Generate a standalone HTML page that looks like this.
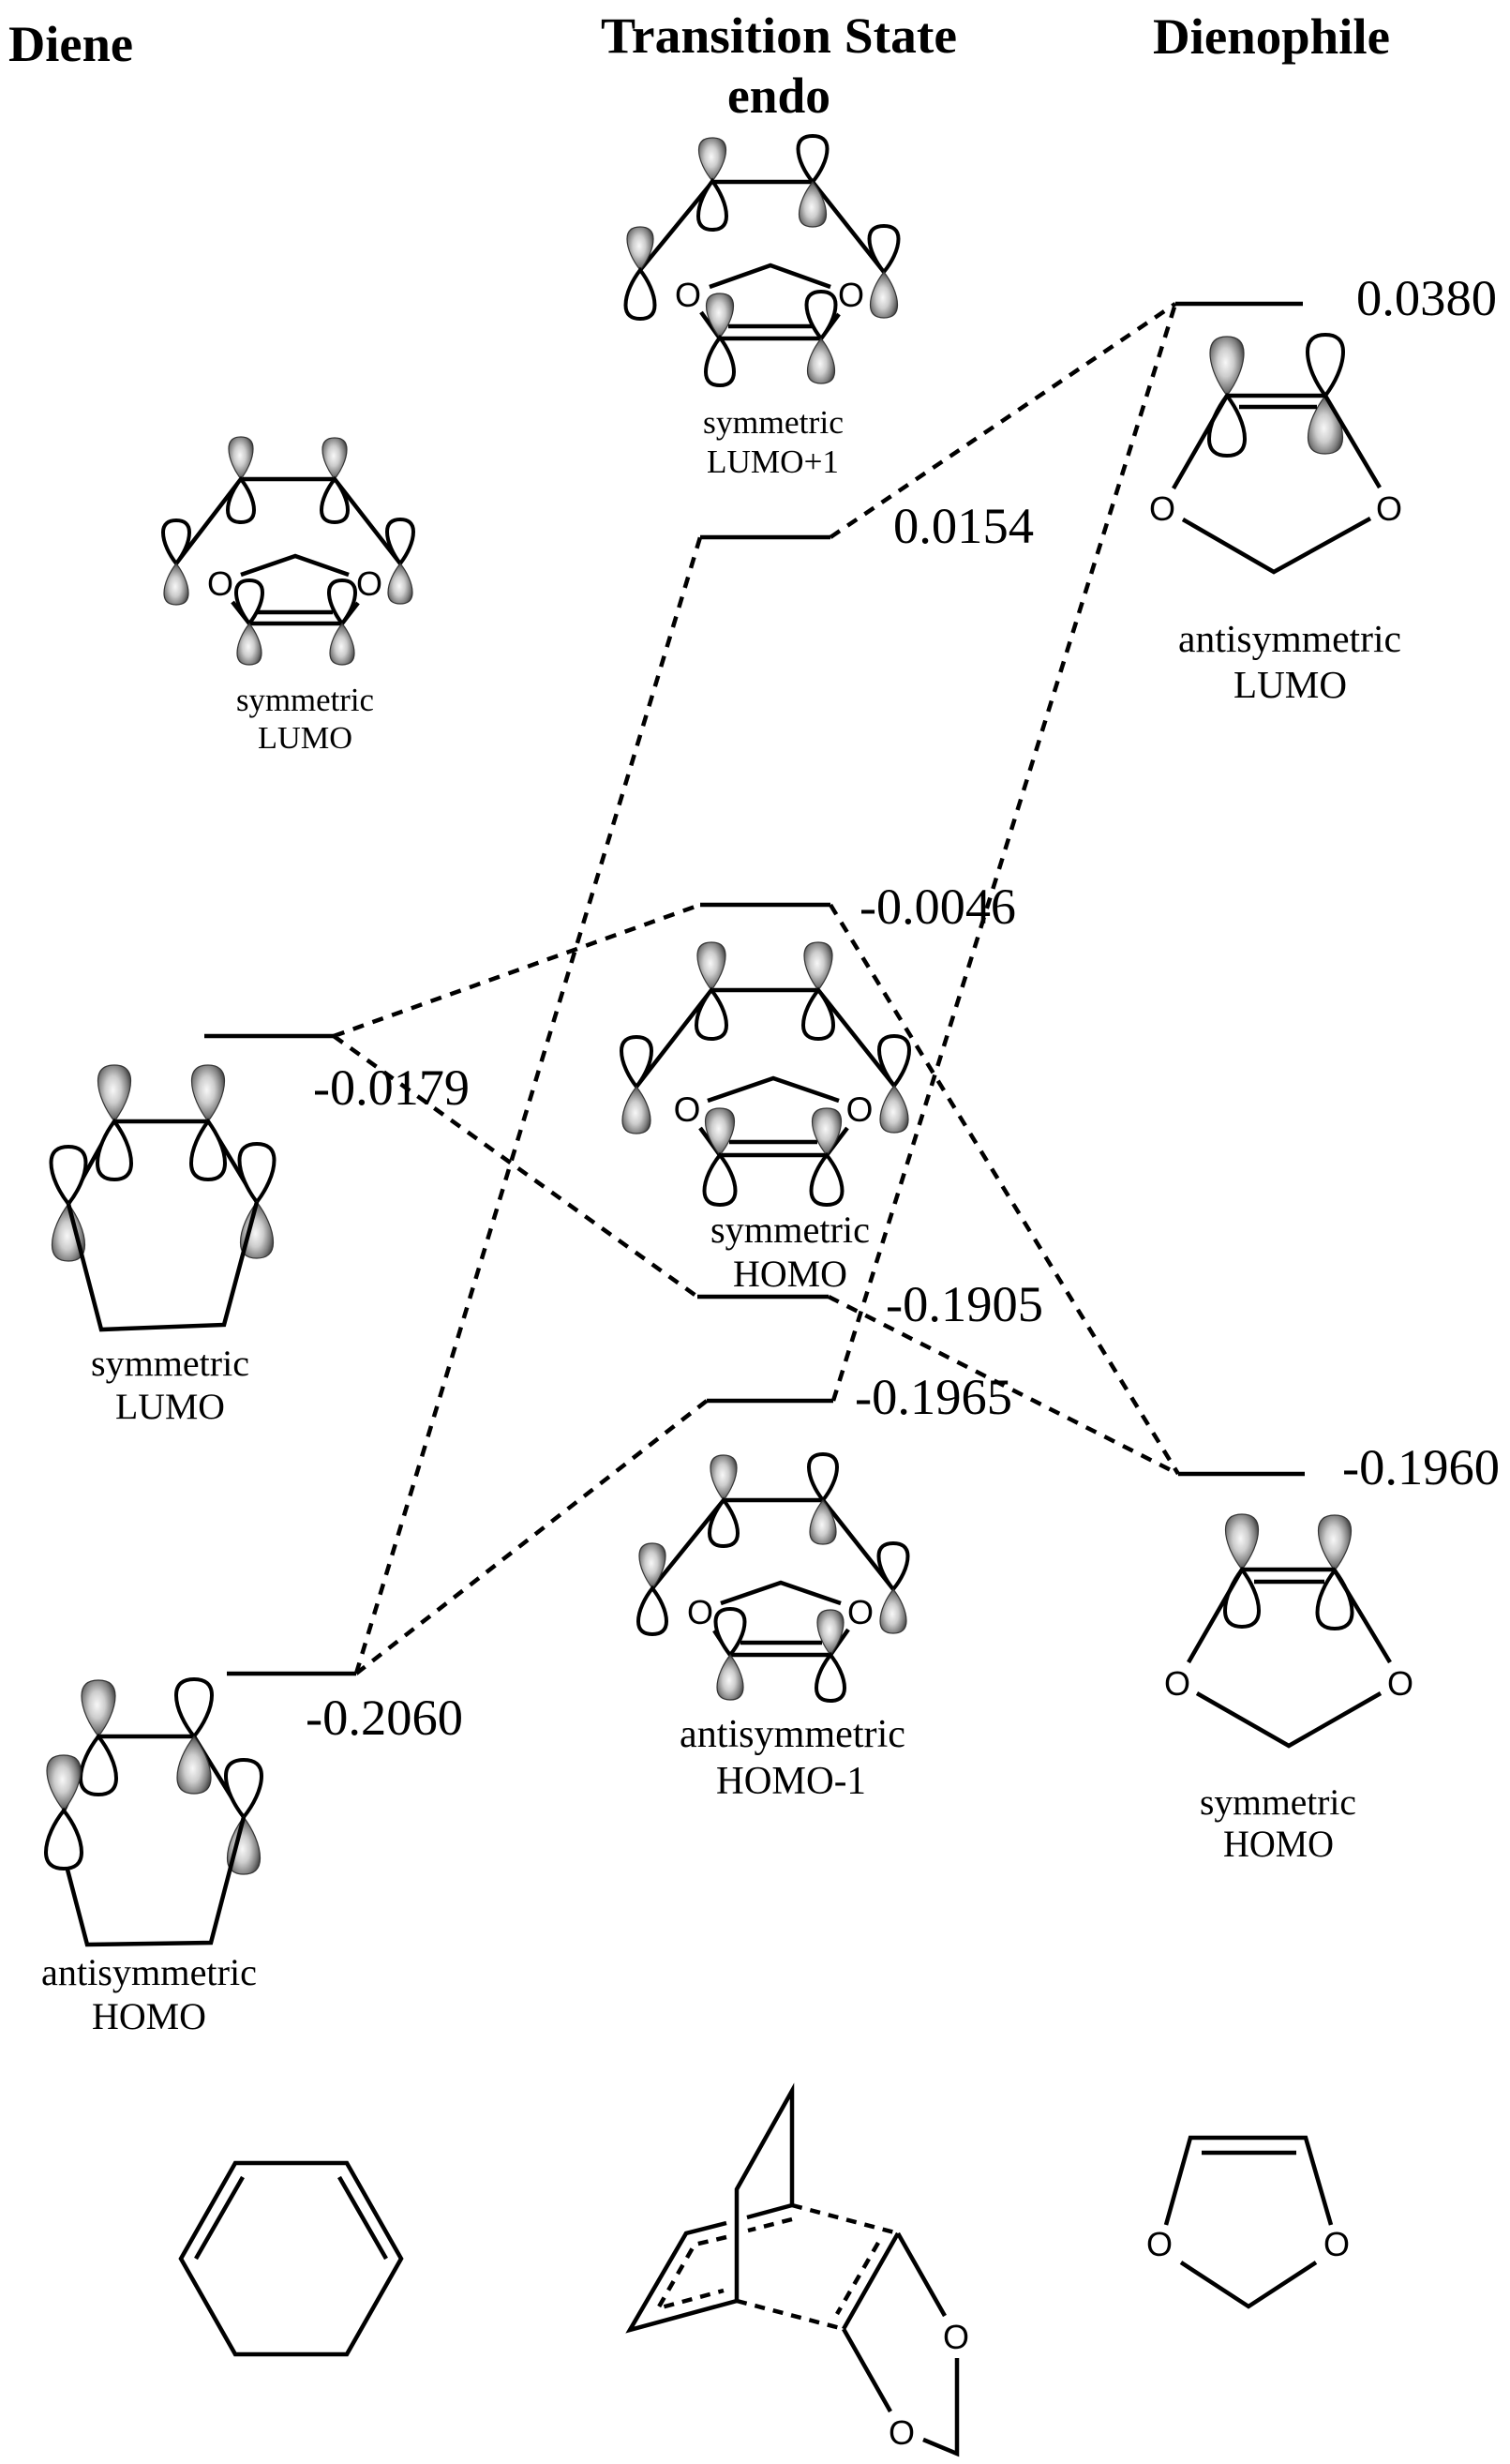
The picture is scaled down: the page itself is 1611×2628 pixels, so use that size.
<!DOCTYPE html>
<html><head><meta charset="utf-8"><title>Diene and dienophile orbital diagram</title>
<style>
html,body{margin:0;padding:0;background:#fff}
svg{display:block}
text{font-family:"Liberation Serif",serif;fill:#000}
.b{font-weight:bold;font-size:54px}
.n{font-size:54px}
.o{font-family:"Liberation Sans",sans-serif;font-size:36px;text-anchor:middle}
.s{stroke:#000;stroke-width:4.5;fill:none;stroke-linejoin:miter}
.d{stroke:#000;stroke-width:4.5;fill:none;stroke-dasharray:12 10}
.d2{stroke:#000;stroke-width:4.5;fill:none;stroke-dasharray:11 9}
.f{fill:url(#g);stroke:#333;stroke-width:1.2}
.e{fill:#fff;stroke:#000;stroke-width:4}
</style></head><body>
<svg xmlns="http://www.w3.org/2000/svg" width="1611" height="2628" viewBox="0 0 1611 2628">
<defs>
<radialGradient id="g" cx=".46" cy=".44" r=".6">
<stop offset="0" stop-color="#f8f8f8"/><stop offset=".4" stop-color="#cdcdcd"/><stop offset=".75" stop-color="#7e7e7e"/><stop offset="1" stop-color="#333"/>
</radialGradient>
<path id="L" vector-effect="non-scaling-stroke" d="M0,0 C-.26,-.2 -.5,-.48 -.5,-.72 C-.5,-.92 -.3,-1 0,-1 C.3,-1 .5,-.92 .5,-.72 C.5,-.48 .26,-.2 0,0Z"/>
</defs>
<rect width="1611" height="2628" fill="#fff"/>

<!-- headers -->
<text class="b" x="9" y="65" textLength="133" lengthAdjust="spacingAndGlyphs">Diene</text>
<text class="b" x="641" y="56" textLength="380" lengthAdjust="spacingAndGlyphs">Transition State</text>
<text class="b" x="776" y="120" textLength="110" lengthAdjust="spacingAndGlyphs">endo</text>
<text class="b" x="1230" y="57" textLength="253" lengthAdjust="spacingAndGlyphs">Dienophile</text>

<!-- TS LUMO+1 -->
<path class="s" d="M760,194H867M760,194L683,288M867,194L943,290M757,306L822,283L886,306M777,348H867M768,361H876M748,333L768,361M895,335L876,361"/>
<use href="#L" class="f" transform="translate(760,193) scale(29,46)"/>
<use href="#L" class="e" transform="translate(760,193) scale(30,-52)"/>
<use href="#L" class="e" transform="translate(867,194) scale(31,49)"/>
<use href="#L" class="f" transform="translate(867,194) scale(29,-48)"/>
<use href="#L" class="f" transform="translate(683,288) scale(28,46)"/>
<use href="#L" class="e" transform="translate(683,288) scale(31,-52)"/>
<use href="#L" class="e" transform="translate(943,290) scale(31,49)"/>
<use href="#L" class="f" transform="translate(943,290) scale(29,-49)"/>
<use href="#L" class="f" transform="translate(768,360) scale(29,47)"/>
<use href="#L" class="e" transform="translate(768,360) scale(30,-51)"/>
<use href="#L" class="e" transform="translate(876,361) scale(31,50)"/>
<use href="#L" class="f" transform="translate(876,361) scale(29,-48)"/>
<text class="o" x="734" y="327">O</text><text class="o" x="908" y="327">O</text>
<text x="750" y="462" font-size="35" textLength="150" lengthAdjust="spacingAndGlyphs">symmetric</text>
<text x="754" y="504" font-size="35" textLength="141" lengthAdjust="spacingAndGlyphs">LUMO+1</text>

<!-- small LUMO left -->
<path class="s" d="M257,511H357M257,511L188,601M357,511L427,601M257,613L315,593L372,613M275,653H355M266,665H365M248,642L266,665M382,643L365,665"/>
<use href="#L" class="f" transform="translate(257,511) scale(26,45)"/>
<use href="#L" class="e" transform="translate(257,511) scale(28,-46)"/>
<use href="#L" class="f" transform="translate(357,511) scale(26,44)"/>
<use href="#L" class="e" transform="translate(357,511) scale(28,-46)"/>
<use href="#L" class="e" transform="translate(188,601) scale(28,46)"/>
<use href="#L" class="f" transform="translate(188,601) scale(26,-44)"/>
<use href="#L" class="e" transform="translate(427,601) scale(28,47)"/>
<use href="#L" class="f" transform="translate(427,601) scale(26,-43)"/>
<use href="#L" class="e" transform="translate(266,665) scale(28,46)"/>
<use href="#L" class="f" transform="translate(266,665) scale(26,-44)"/>
<use href="#L" class="e" transform="translate(365,665) scale(28,46)"/>
<use href="#L" class="f" transform="translate(365,665) scale(26,-44)"/>
<text class="o" x="235" y="635">O</text><text class="o" x="394" y="635">O</text>
<text x="252" y="758" font-size="34.5" textLength="147" lengthAdjust="spacingAndGlyphs">symmetric</text>
<text x="275" y="798" font-size="34" textLength="101" lengthAdjust="spacingAndGlyphs">LUMO</text>

<!-- TS HOMO -->
<path class="s" d="M759,1056H873M759,1056L679,1159M873,1056L954,1158M755,1174L825,1150L895,1174M778,1218H872M768,1232H882M747,1203L768,1232M904,1203L882,1232"/>
<use href="#L" class="f" transform="translate(759,1056) scale(30,51)"/>
<use href="#L" class="e" transform="translate(759,1056) scale(32,-52)"/>
<use href="#L" class="f" transform="translate(873,1056) scale(30,51)"/>
<use href="#L" class="e" transform="translate(873,1056) scale(32,-52)"/>
<use href="#L" class="e" transform="translate(679,1159) scale(32,53)"/>
<use href="#L" class="f" transform="translate(679,1159) scale(30,-50)"/>
<use href="#L" class="e" transform="translate(954,1158) scale(32,53)"/>
<use href="#L" class="f" transform="translate(954,1158) scale(30,-50)"/>
<use href="#L" class="f" transform="translate(768,1232) scale(31,50)"/>
<use href="#L" class="e" transform="translate(768,1232) scale(33,-53)"/>
<use href="#L" class="f" transform="translate(882,1232) scale(31,50)"/>
<use href="#L" class="e" transform="translate(882,1232) scale(33,-53)"/>
<text class="o" x="733" y="1196" style="font-size:37px">O</text><text class="o" x="917" y="1196" style="font-size:37px">O</text>
<text x="758" y="1325" font-size="40" textLength="170" lengthAdjust="spacingAndGlyphs">symmetric</text>
<text x="782" y="1372" font-size="40" textLength="122" lengthAdjust="spacingAndGlyphs">HOMO</text>

<!-- HOMO-1 -->
<path class="s" d="M772,1600H878M772,1600L696,1694M878,1600L953,1695M769,1710L833,1688L897,1710M790,1752H877M779,1765H886M762,1739L779,1765M905,1738L886,1765"/>
<use href="#L" class="f" transform="translate(772,1600) scale(28,48)"/>
<use href="#L" class="e" transform="translate(772,1600) scale(30,-49)"/>
<use href="#L" class="e" transform="translate(878,1600) scale(30,49)"/>
<use href="#L" class="f" transform="translate(878,1600) scale(28,-47)"/>
<use href="#L" class="f" transform="translate(696,1694) scale(28,48)"/>
<use href="#L" class="e" transform="translate(696,1694) scale(30,-49)"/>
<use href="#L" class="e" transform="translate(953,1695) scale(31,49)"/>
<use href="#L" class="f" transform="translate(953,1695) scale(28,-47)"/>
<use href="#L" class="e" transform="translate(779,1765) scale(31,49)"/>
<use href="#L" class="f" transform="translate(779,1765) scale(28,-48)"/>
<use href="#L" class="f" transform="translate(886,1765) scale(28,48)"/>
<use href="#L" class="e" transform="translate(886,1765) scale(30,-49)"/>
<text class="o" x="747" y="1732">O</text><text class="o" x="918" y="1732">O</text>
<text x="725" y="1863" font-size="42" textLength="241" lengthAdjust="spacingAndGlyphs">antisymmetric</text>
<text x="764" y="1913" font-size="42" textLength="160" lengthAdjust="spacingAndGlyphs">HOMO-1</text>

<!-- Dienophile LUMO -->
<use href="#L" class="f" transform="translate(1309,422) scale(36,63)"/>
<use href="#L" class="e" transform="translate(1309,422) scale(38,-64)"/>
<use href="#L" class="e" transform="translate(1414,422) scale(38,65)"/>
<use href="#L" class="f" transform="translate(1414,422) scale(37,-62)"/>
<path class="s" d="M1309,422H1414M1322,434H1405M1309,422L1252,521M1414,422L1472,520M1262,554L1359,610L1462,553"/>
<text class="o" x="1240" y="555">O</text><text class="o" x="1482" y="555">O</text>
<text x="1257" y="695" font-size="41" textLength="238" lengthAdjust="spacingAndGlyphs">antisymmetric</text>
<text x="1316" y="744" font-size="41" textLength="121" lengthAdjust="spacingAndGlyphs">LUMO</text>

<!-- Dienophile HOMO -->
<use href="#L" class="f" transform="translate(1325,1674) scale(35,59)"/>
<use href="#L" class="e" transform="translate(1325,1674) scale(36,-61)"/>
<use href="#L" class="f" transform="translate(1424,1675) scale(35,59)"/>
<use href="#L" class="e" transform="translate(1424,1675) scale(37,-62)"/>
<path class="s" d="M1325,1674H1424M1338,1687H1413M1325,1674L1268,1773M1424,1675L1483,1773M1277,1806L1375,1862L1473,1806"/>
<text class="o" x="1256" y="1808">O</text><text class="o" x="1494" y="1808">O</text>
<text x="1280" y="1935" font-size="39" textLength="167" lengthAdjust="spacingAndGlyphs">symmetric</text>
<text x="1305" y="1980" font-size="40" textLength="118" lengthAdjust="spacingAndGlyphs">HOMO</text>

<!-- Diene LUMO -->
<path class="s" d="M122,1196H222M122,1196L73,1284M222,1196L274,1282"/>
<use href="#L" class="f" transform="translate(122,1196) scale(35,60)"/>
<use href="#L" class="e" transform="translate(122,1196) scale(36,-62)"/>
<use href="#L" class="f" transform="translate(222,1196) scale(35,60)"/>
<use href="#L" class="e" transform="translate(222,1196) scale(36,-62)"/>
<use href="#L" class="e" transform="translate(73,1284) scale(37,61)"/>
<use href="#L" class="f" transform="translate(73,1284) scale(35,-61)"/>
<use href="#L" class="e" transform="translate(274,1282) scale(37,62)"/>
<use href="#L" class="f" transform="translate(274,1282) scale(35,-60)"/>
<path class="s" d="M73,1284L108,1418L239,1413L274,1282"/>
<text x="97" y="1467" font-size="39.5" textLength="169" lengthAdjust="spacingAndGlyphs">symmetric</text>
<text x="123" y="1513" font-size="39" textLength="117" lengthAdjust="spacingAndGlyphs">LUMO</text>

<!-- Diene HOMO -->
<path class="s" d="M105,1852H207M105,1852L68,1931M207,1852L260,1938"/>
<use href="#L" class="f" transform="translate(105,1852) scale(36,60)"/>
<use href="#L" class="e" transform="translate(105,1852) scale(38,-62)"/>
<use href="#L" class="e" transform="translate(207,1852) scale(38,61)"/>
<use href="#L" class="f" transform="translate(207,1852) scale(36,-61)"/>
<use href="#L" class="f" transform="translate(68,1931) scale(36,59)"/>
<use href="#L" class="e" transform="translate(68,1931) scale(38,-62)"/>
<use href="#L" class="e" transform="translate(260,1938) scale(38,61)"/>
<use href="#L" class="f" transform="translate(260,1938) scale(35,-61)"/>
<path class="s" d="M72,1994L93,2074L225,2072L260,1938"/>
<text x="44" y="2117" font-size="40" textLength="230" lengthAdjust="spacingAndGlyphs">antisymmetric</text>
<text x="98" y="2164" font-size="40" textLength="122" lengthAdjust="spacingAndGlyphs">HOMO</text>

<!-- energy levels -->
<path class="s" d="M1254,324H1390M747,573H886M747,965H886M218,1105H356M242,1785H380M744,1383H884M754,1494H889M1257,1572H1392"/>
<path class="d" d="M356,1105L747,965M356,1105L744,1383M380,1785L754,1494M380,1785L747,573M886,573L1254,324M889,1494L1254,324M886,965L1257,1572M884,1383L1257,1572"/>
<text class="n" x="1447" y="336" textLength="150" lengthAdjust="spacingAndGlyphs">0.0380</text>
<text class="n" x="953" y="579" textLength="150" lengthAdjust="spacingAndGlyphs">0.0154</text>
<text class="n" x="917" y="985" textLength="167" lengthAdjust="spacingAndGlyphs">-0.0046</text>
<text class="n" x="334" y="1178" textLength="167" lengthAdjust="spacingAndGlyphs">-0.0179</text>
<text class="n" x="326" y="1850" textLength="168" lengthAdjust="spacingAndGlyphs">-0.2060</text>
<text class="n" x="945" y="1409" textLength="168" lengthAdjust="spacingAndGlyphs">-0.1905</text>
<text class="n" x="912" y="1508" textLength="168" lengthAdjust="spacingAndGlyphs">-0.1965</text>
<text class="n" x="1432" y="1583" textLength="168" lengthAdjust="spacingAndGlyphs">-0.1960</text>

<!-- bottom: cyclohexadiene -->
<path class="s" d="M251,2307H370L428,2409L370,2511H251L193,2409ZM259,2322L209,2409M362,2322L412,2409"/>

<!-- bottom: transition state -->
<path class="s" d="M845,2352V2230L786,2335V2454L672,2485L732,2382L775,2371M797,2365L845,2352M958,2382L900,2484M958,2382L1008,2470M900,2484L950,2572M1021,2515V2617L985,2602"/>
<path class="d2" d="M845,2352L958,2382M786,2454L900,2484M937,2392L893,2468M845,2367L798,2379"/>
<path class="d2" d="M775,2386L741,2394L702,2462L772,2443"/>
<text class="o" x="1020" y="2505">O</text><text class="o" x="962" y="2607">O</text>

<!-- bottom: dioxole -->
<path class="s" d="M1244,2373L1270,2280H1393L1420,2373M1282,2296H1383M1260,2413L1332,2460L1404,2413"/>
<text class="o" x="1237" y="2406">O</text><text class="o" x="1426" y="2406">O</text>
</svg>
</body></html>
